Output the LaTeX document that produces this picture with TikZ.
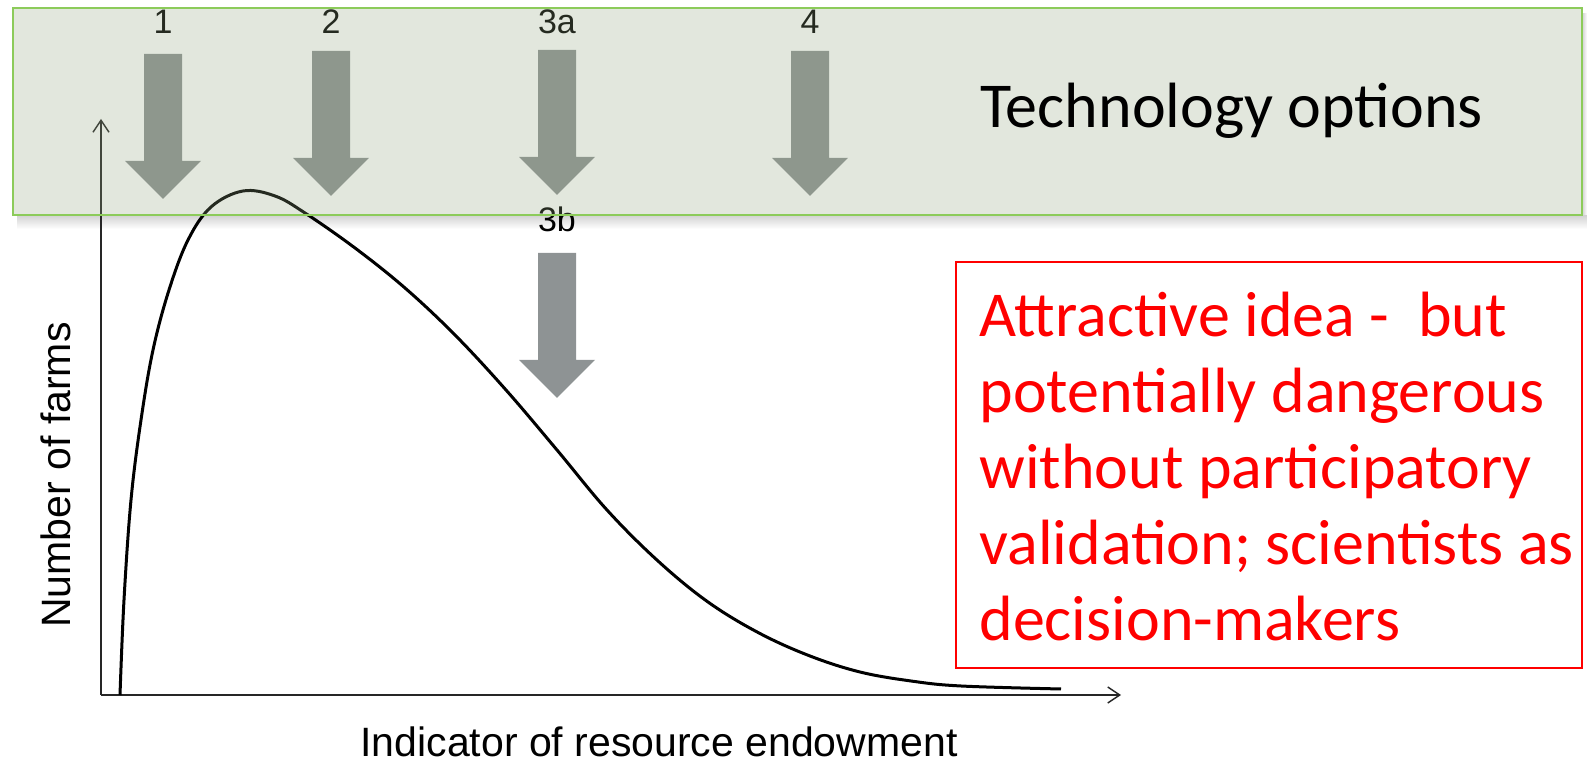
\documentclass[tikz,border=0pt]{standalone}
\usepackage{fontspec}
\setmainfont{Carlito}
\newfontfamily\arialfont{Liberation Sans}
\usetikzlibrary{arrows.meta}

\definecolor{boxgreen}{RGB}{143,163,124}
\definecolor{boxline}{RGB}{140,203,90}
\definecolor{optgray}{RGB}{142,147,148}

% block arrow pointing down: centre x, top y
\newcommand{\optarrow}[2]{%
  \fill[optgray] (#1-19,#2) -- (#1+19,#2) -- (#1+19,#2+107) -- (#1+38,#2+107)
    -- (#1,#2+145) -- (#1-38,#2+107) -- (#1-19,#2+107) -- cycle;}

\begin{document}
\begin{tikzpicture}[x=0.5pt,y=-0.5pt,>={Straight Barb[length=6pt,width=8pt]},
    numlabel/.style={font=\arialfont\fontsize{17}{20}\selectfont,anchor=base,inner sep=0pt},
    axislabel/.style={font=\arialfont\fontsize{20.5}{25}\selectfont,anchor=base,inner sep=0pt}]
    \useasboundingbox (0,0) rectangle (1587,763);

    % shadow of the options box
    \shade[top color=black!18,bottom color=white] (17,215) rectangle (1587,229);
    \shade[left color=black!15,right color=white] (1583,14) rectangle (1587,215);

    \node[numlabel] (num1) at (163,34) {1};
    \node[numlabel] (num2) at (331,34) {2};
    \node[numlabel] (num3a) at (557,34) {3a};
    \node[numlabel] (num4) at (810,34) {4};
    \node[numlabel] (num3b) at (557,232) {3b};

    \optarrow{163}{54}
    \optarrow{331}{51}
    \optarrow{557}{50}
    \optarrow{810}{51}
    \optarrow{557}{253}

    % axes
    \coordinate (origin) at (101,695);
    \coordinate (ytip) at (101,119);
    \coordinate (xtip) at (1121,695);
    \draw[->,line width=0.7pt,black!85] (origin) -- (ytip);
    \draw[->,line width=0.7pt,black!85] (origin) -- (xtip);

    \draw[line width=1.5pt,line join=round] plot[smooth,tension=0.6] coordinates {
        (120,695) (124,600) (131,500) (141,420) (153,350) (169,290) (188,240)
        (211,207) (243,191) (275,196) (305,213) (355,248) (405,288) (455,335)
        (506,390) (557,450) (607,510) (658,561) (708,602) (759,633) (810,656)
        (860,672) (911,681) (961,686) (1061,689)};

    \node[axislabel,rotate=90] (ylabel) at (70,475) {Number of farms};
    \node[axislabel] (xlabel) at (659,757) {Indicator of resource endowment};

    % options box
    \fill[boxgreen,opacity=0.26] (13,8) rectangle (1582,215);
    \draw[boxline,line width=1pt] (13,8) rectangle (1582,215);
    \node[anchor=base west,inner sep=0pt,font=\fontsize{32}{38}\selectfont] (techlabel) at (980,128) {Technology options};

    % warning box
    \draw[red,line width=1pt] (956,262) rectangle (1582,668);
    \node[anchor=base west,inner sep=0pt,align=left,text=red,font=\fontsize{32}{38}\selectfont] (warning) at (979,641)
        {Attractive idea -\ \ but\\ potentially dangerous\\ without participatory\\ validation; scientists as\\ decision-makers};
\end{tikzpicture}
\end{document}
